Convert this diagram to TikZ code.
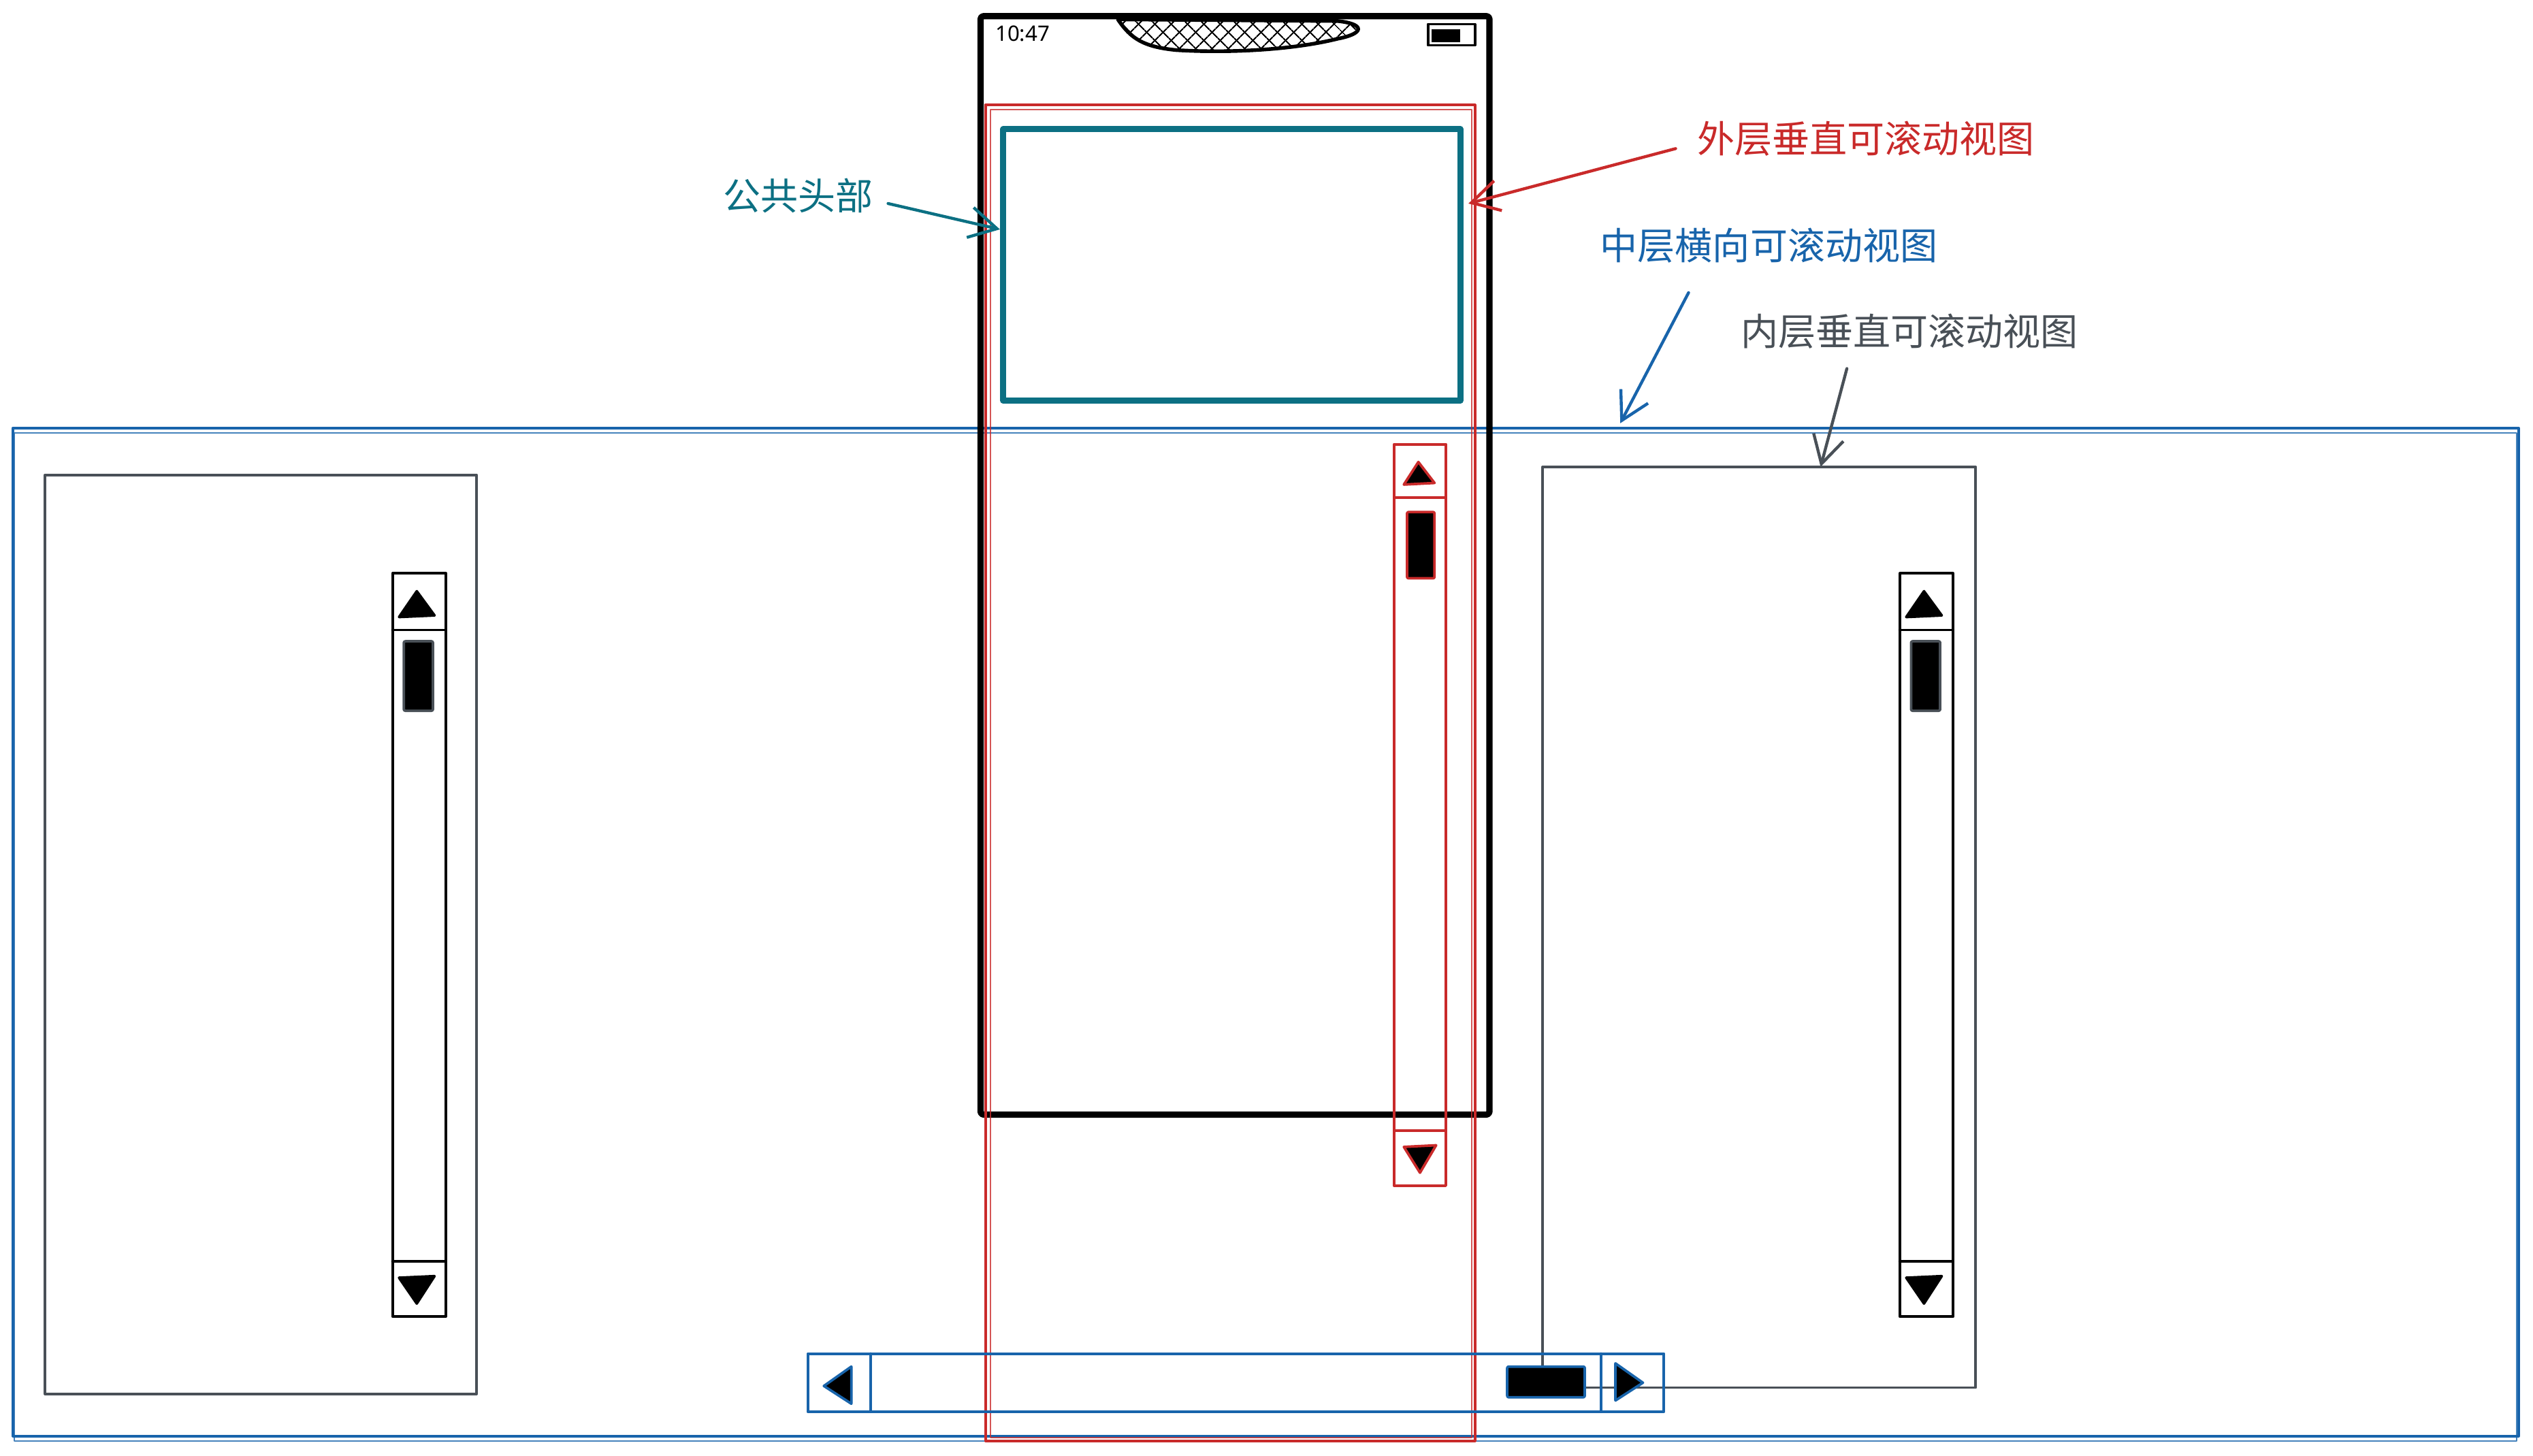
\documentclass[tikz,border=0pt]{standalone}
\usepackage{fontspec}
\newfontfamily\cjk{Noto Sans CJK SC}
\newfontfamily\uifont{Noto Sans}
\usetikzlibrary{arrows.meta,positioning,calc,patterns.meta}
\definecolor{wfInk}{HTML}{1E1E1E}
\definecolor{wfRed}{HTML}{C92A2A}
\definecolor{wfBlue}{HTML}{1864AB}
\definecolor{wfTeal}{HTML}{0C7083}
\definecolor{wfGray}{HTML}{495057}
\tikzset{
  % wireframe sketch: one unit = one pixel of the 1568 x 901 layout
  wf/base/.style={line cap=round,line join=round},
  wf/label/.style={font=\cjk\fontsize{13.2pt}{15pt}\selectfont,inner sep=0pt},
  wf/phone/.style={draw=black,line width=2.2pt,rounded corners=1pt},
  wf/header/.style={draw=wfTeal,line width=2.1pt},
  wf/frame/.style={line width=.95pt},
  wf/sketch/.style={line width=.5pt,opacity=.8},
  wf/track/.style={line width=.95pt},
  wf/thumb/.style={fill=black,line width=.9pt,rounded corners=.5pt},
  wf/tip/.style={fill=black,line width=.9pt},
  wf/pointer/.style={-{Straight Barb[length=3.4mm,width=3.8mm]},line width=1.05pt}
}
\begin{document}
\begin{tikzpicture}[wf/base,x=.2mm,y=-.2mm]
  \path[use as bounding box] (0,0) rectangle (1568,901);

  % middle horizontal scroll view (drawn twice for the sketch look)
  \draw[wf/frame,wfBlue] (8,265) rectangle (1559,889);
  \draw[wf/sketch,wfBlue] (9,268) rectangle (1558,892);

  % inner vertical scroll views with their scroll bars
  \foreach \bx/\bw/\by/\bb/\sx in {28/267/294/863/243,955/268/289/859/1176} {
    \draw[wf/frame,wfGray] (\bx,\by) rectangle (\bx+\bw,\bb);
    \draw[wf/track,black] (\sx,355) rectangle (\sx+33,815)
      (\sx,390)--(\sx+33,390) (\sx,781)--(\sx+33,781);
    \draw[wf/tip,black] (\sx+4,382)--(\sx+15,366)--(\sx+26,381)--cycle;
    \draw[wf/tip,black] (\sx+4,791)--(\sx+26,790)--(\sx+15,807)--cycle;
    \draw[wf/thumb,draw=wfGray] (\sx+7,397) rectangle (\sx+25,440);
  }
  \coordinate (innerTip) at (1127,289);

  % phone
  \draw[wf/phone] (607,10) rectangle (922,690);
  \node[font=\uifont\fontsize{7.5pt}{8pt}\selectfont,inner sep=0pt] (clock) at (633,21) {10:47};
  \draw[black,line width=1.3pt,pattern={Lines[angle=45,distance=4pt,line width=.55pt]},
    postaction={pattern={Lines[angle=-45,distance=4pt,line width=.55pt]}}]
    (692,12)--(828,13) .. controls (846,15) and (844,21) .. (828,24)
    .. controls (800,31) and (760,33) .. (728,31)
    .. controls (708,29) and (700,24) .. (692,12)--cycle;
  \draw[black,line width=.9pt] (884,15) rectangle (913,28);
  \fill[black] (886,18) rectangle (904,26);

  % common header
  \draw[wf/header] (621,80) rectangle (904,248);
  \coordinate (headTip) at (619,142);

  % outer vertical scroll view
  \draw[wf/frame,wfRed] (610,65) rectangle (913,892);
  \draw[wf/sketch,wfRed] (613,68) rectangle (911,890);
  \coordinate (outerTip) at (909,126);
  \draw[wf/track,wfRed] (863,275) rectangle (895,734)
    (863,308)--(895,308) (863,700)--(895,700);
  \draw[wf/tip,draw=wfRed] (869,300)--(878,286)--(888,299)--cycle;
  \draw[wf/tip,draw=wfRed] (869,710)--(889,709)--(879,726)--cycle;
  \draw[wf/thumb,draw=wfRed] (871,317) rectangle (888,358);

  % horizontal scroll bar of the middle view
  \draw[wf/track,wfBlue] (500,838) rectangle (1030,874)
    (539,838)--(539,874) (991,838)--(991,874);
  \draw[wf/tip,draw=wfBlue] (527,846)--(510,858)--(527,869)--cycle;
  \draw[wf/tip,draw=wfBlue] (1000,844)--(1017,856)--(1000,867)--cycle;
  \draw[wf/thumb,draw=wfBlue] (933,846) rectangle (981,865);
  \coordinate (middleTip) at (1003,262);

  % labels and pointers
  \node[wf/label,text=wfTeal] (headLabel) at (494,121) {公共头部};
  \node[wf/label,text=wfRed] (outerLabel) at (1155,86) {外层垂直可滚动视图};
  \node[wf/label,text=wfBlue] (middleLabel) at (1095,152) {中层横向可滚动视图};
  \node[wf/label,text=wfGray] (innerLabel) at (1182,205) {内层垂直可滚动视图};
  \draw[wf/pointer,wfTeal] ([shift={(9,5)}]headLabel.east)--(headTip);
  \draw[wf/pointer,wfRed] ([shift={(-13,6)}]outerLabel.west)--(outerTip);
  \draw[wf/pointer,wfBlue] ([shift={(55,18)}]middleLabel.south west)--(middleTip);
  \draw[wf/pointer,wfGray] ([shift={(66,12)}]innerLabel.south west)--(innerTip);
\end{tikzpicture}
\end{document}
